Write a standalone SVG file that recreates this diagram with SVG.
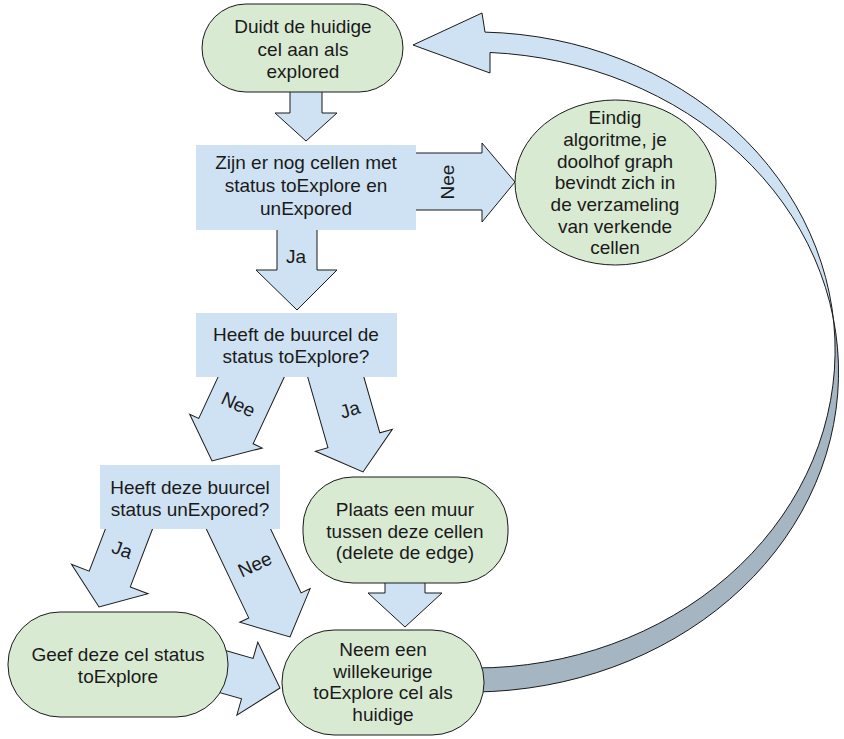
<svg xmlns="http://www.w3.org/2000/svg" width="844" height="739" viewBox="0 0 844 739">
<defs>
<style>
.node{fill:#d9ead3;stroke:#1a1a1a;stroke-width:1}
.dec{fill:#cfe2f3}
.arr{fill:#cfe2f3;stroke:#1a1a1a;stroke-width:1}
.lbl{font-family:"Liberation Sans",Arial,sans-serif;font-size:19px;fill:#1a1a1a;text-anchor:middle}
</style>
<clipPath id="lower"><rect x="0" y="323.5" width="844" height="420"/></clipPath>
<path id="curve" d="M490,52.47 L490,73 L413,45 L482,13 L485,32.12 A360,318 0 0 1 475,668 L475,692 A368,320 0 0 0 490,52.47 Z"/>
</defs>
<rect width="844" height="739" fill="#ffffff"/>
<g id="connectors">
  <use href="#curve" fill="#cfe2f3"/>
  <use href="#curve" fill="#a6b5c2" clip-path="url(#lower)"/>
  <use href="#curve" fill="none" stroke="#1a1a1a" stroke-width="1"/>
  <polygon class="arr" points="290,85 322,85 322,113 337,113 306,141 275,113 290,113"/>
  <polygon class="arr" points="277,225 317,225 317,270 337,270 297,310 256,270 277,270"/>
  <polygon class="arr" points="410,153 482,153 482,143 515,182 482,222 482,210 410,210"/>
  <polygon class="arr" points="385,578 425,578 425,593 442,593 405,627 368,593 385,593"/>
  <polygon class="arr" transform="translate(212,461) rotate(115)" points="-115,-30 -33,-30 -33,-40 0,0 -33,40 -33,30 -115,30"/>
  <polygon class="arr" transform="translate(363,472) rotate(74)" points="-115,-27 -33,-27 -33,-40 0,0 -33,40 -33,27 -115,27"/>
  <polygon class="arr" transform="translate(99,607) rotate(111)" points="-100,-22 -30,-22 -30,-41 0,0 -30,41 -30,22 -100,22"/>
  <polygon class="arr" transform="translate(290,637) rotate(64.5)" points="-140,-29 -35,-29 -35,-39 0,0 -35,39 -35,29 -140,29"/>
  <polygon class="arr" transform="translate(280,688) rotate(16)" points="-70,-21 -34,-21 -34,-38 0,0 -34,38 -34,21 -70,21"/>
  <text class="lbl" transform="translate(448,182) rotate(-90)" x="0" y="6">Nee</text>
  <text class="lbl" x="296" y="263">Ja</text>
  <text class="lbl" transform="translate(238,405) rotate(25)" x="0" y="6">Nee</text>
  <text class="lbl" transform="translate(350,410) rotate(-17)" x="0" y="6">Ja</text>
  <text class="lbl" transform="translate(122,550) rotate(20)" x="0" y="6">Ja</text>
  <text class="lbl" transform="translate(255,565) rotate(-25)" x="0" y="6">Nee</text>
</g>
<g id="node-start">
  <rect class="node" x="202" y="4" width="201" height="88" rx="44" ry="44"/>
  <text class="lbl" x="303" y="33">Duidt de huidige</text>
  <text class="lbl" x="303" y="56">cel aan als</text>
  <text class="lbl" x="303" y="78">explored</text>
</g>
<g id="decision-cells">
  <rect class="dec" x="196" y="145" width="220" height="85"/>
  <text class="lbl" x="306" y="169">Zijn er nog cellen met</text>
  <text class="lbl" x="306" y="192">status toExplore en</text>
  <text class="lbl" x="306" y="215">unExpored</text>
</g>
<g id="node-end">
  <ellipse class="node" cx="615.5" cy="182.5" rx="100.5" ry="82.5"/>
  <text class="lbl" x="615" y="124">Eindig</text>
  <text class="lbl" x="615" y="146">algoritme, je</text>
  <text class="lbl" x="615" y="168">doolhof graph</text>
  <text class="lbl" x="615" y="189">bevindt zich in</text>
  <text class="lbl" x="615" y="211">de verzameling</text>
  <text class="lbl" x="615" y="233">van verkende</text>
  <text class="lbl" x="615" y="254">cellen</text>
</g>
<g id="decision-neighbour">
  <rect class="dec" x="196" y="313" width="201" height="64"/>
  <text class="lbl" x="296" y="341">Heeft de buurcel de</text>
  <text class="lbl" x="296" y="363">status toExplore?</text>
</g>
<g id="decision-unexplored">
  <rect class="dec" x="100" y="465" width="180" height="64"/>
  <text class="lbl" x="190" y="494">Heeft deze buurcel</text>
  <text class="lbl" x="190" y="516">status unExpored?</text>
</g>
<g id="node-wall">
  <rect class="node" x="303" y="477" width="205" height="106" rx="50" ry="50"/>
  <text class="lbl" x="405" y="516">Plaats een muur</text>
  <text class="lbl" x="405" y="538">tussen deze cellen</text>
  <text class="lbl" x="405" y="559">(delete de edge)</text>
</g>
<g id="node-toexplore">
  <rect class="node" x="8" y="612" width="220" height="105" rx="52" ry="52"/>
  <text class="lbl" x="118" y="661">Geef deze cel status</text>
  <text class="lbl" x="118" y="683">toExplore</text>
</g>
<g id="node-next">
  <rect class="node" x="282" y="630" width="202" height="105" rx="52" ry="52"/>
  <text class="lbl" x="383" y="656">Neem een</text>
  <text class="lbl" x="383" y="678">willekeurige</text>
  <text class="lbl" x="383" y="699">toExplore cel als</text>
  <text class="lbl" x="383" y="721">huidige</text>
</g>
</svg>
